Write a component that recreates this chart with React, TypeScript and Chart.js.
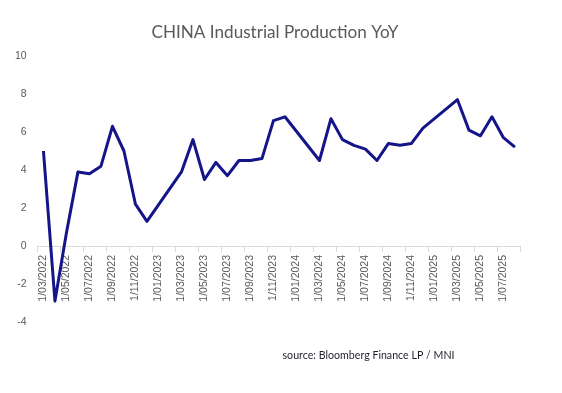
import React, { useEffect, useRef } from "react";
import { Chart, registerables } from "chart.js";

Chart.register(...registerables);

const TITLE = "CHINA Industrial Production YoY";
const SOURCE = "source: Bloomberg Finance LP / MNI";

const categories: string[] = [
  "1/03/2022", "1/04/2022", "1/05/2022", "1/06/2022", "1/07/2022", "1/08/2022",
  "1/09/2022", "1/10/2022", "1/11/2022", "1/12/2022",
  "1/01/2023", "1/02/2023", "1/03/2023", "1/04/2023", "1/05/2023", "1/06/2023",
  "1/07/2023", "1/08/2023", "1/09/2023", "1/10/2023", "1/11/2023", "1/12/2023",
  "1/01/2024", "1/02/2024", "1/03/2024", "1/04/2024", "1/05/2024", "1/06/2024",
  "1/07/2024", "1/08/2024", "1/09/2024", "1/10/2024", "1/11/2024", "1/12/2024",
  "1/01/2025", "1/02/2025", "1/03/2025", "1/04/2025", "1/05/2025", "1/06/2025",
  "1/07/2025", "1/08/2025",
];

const ipYoY: (number | null)[] = [
  5.0, -2.9, 0.7, 3.9, 3.8, 4.2, 6.3, 5.0, 2.2, 1.3,
  null, null, 3.9, 5.6, 3.5, 4.4, 3.7, 4.5, 4.5, 4.6, 6.6, 6.8,
  null, null, 4.5, 6.7, 5.6, 5.3, 5.1, 4.5, 5.4, 5.3, 5.4, 6.2,
  null, null, 7.7, 6.1, 5.8, 6.8, 5.7, 5.2,
];

const yMin = -4;
const yMax = 10;
const yStep = 2;

const AXIS_GREY = "#d9d9d9";
const TEXT_GREY = "#595959";

const textPlugin = {
  id: "texts",
  afterDraw(chart: any) {
    const ctx = chart.ctx as CanvasRenderingContext2D;
    ctx.save();
    ctx.fillStyle = TEXT_GREY;
    ctx.font = "18px Lato";
    ctx.textAlign = "center";
    ctx.textBaseline = "alphabetic";
    ctx.fillText(TITLE, 275, 37.5, 247);
    ctx.font = "11px Lato";
    ctx.fillStyle = "#1f1f2a";
    ctx.textAlign = "left";
    ctx.fillText(SOURCE, 282.5, 359, 172);
    ctx.restore();
  },
};

export default function App() {
  const ref = useRef<HTMLCanvasElement | null>(null);

  useEffect(() => {
    if (!ref.current) return;
    const tickColor = (c: any) =>
      c.index === undefined || c.index % 2 === 0 ? AXIS_GREY : "rgba(0,0,0,0)";
    const chart = new Chart(ref.current, {
      type: "line",
      data: {
        labels: categories,
        datasets: [
          {
            data: ipYoY,
            borderColor: "#15158a",
            borderWidth: 3,
            pointRadius: 0,
            pointHoverRadius: 0,
            tension: 0,
            spanGaps: true,
            borderJoinStyle: "round",
            fill: false,
          },
        ],
      },
      options: {
        animation: false,
        responsive: false,
        layout: { padding: { top: 56, bottom: 71, left: 0, right: 41.3 } },
        plugins: {
          legend: { display: false },
          title: { display: false },
          tooltip: { enabled: false },
        },
        scales: {
          x: {
            type: "category",
            position: { y: 0 } as any,
            offset: true,
            grid: {
              offset: true,
              drawOnChartArea: false,
              drawTicks: true,
              tickLength: 5,
              color: tickColor,
              tickColor: tickColor,
            },
            border: { display: true, color: AXIS_GREY, width: 1 },
            ticks: {
              autoSkip: false,
              minRotation: 90,
              maxRotation: 90,
              padding: 4,
              color: TEXT_GREY,
              font: { family: "Liberation Sans", size: 10.5 },
              callback: function (this: any, _v: any, i: number) {
                return i % 2 === 0 ? categories[i] : "";
              },
            },
          },
          y: {
            min: yMin,
            max: yMax,
            grid: { display: false, drawTicks: false },
            border: { display: false },
            ticks: {
              stepSize: yStep,
              padding: 11,
              color: TEXT_GREY,
              font: { family: "Liberation Sans", size: 10.5 },
            },
            afterFit: (scale: any) => {
              scale.width = 37.7;
            },
          },
        },
      },
      plugins: [textPlugin],
    });
    return () => chart.destroy();
  }, []);

  return (
    <div style={{ position: "fixed", left: 0, top: 0, width: 562, height: 393, background: "#fff" }}>
      <canvas ref={ref} width={562} height={393} style={{ display: "block" }} />
    </div>
  );
}
